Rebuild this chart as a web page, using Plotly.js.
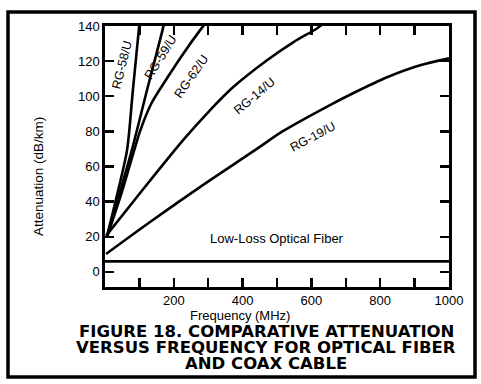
<!DOCTYPE html>
<html>
<head>
<meta charset="utf-8">
<script src="https://cdn.plot.ly/plotly-3.0.1.min.js"></script>
<style>html,body{margin:0;padding:0;background:#fff;}#chart{width:481px;height:384px;}</style>
</head>
<body>
<div id="chart"></div>
<script>
// Frequency (MHz) and attenuation (dB/km)
const rg58Freq = [6, 35, 64, 81, 99, 102];
const rg58Att  = [20.5, 43.8, 69.3, 103.4, 139.2, 146];
const rg59Freq = [6, 41, 78, 122, 169, 174];
const rg59Att  = [20.5, 43.8, 69.3, 103.4, 139.2, 144.3];
const rg62Freq = [6, 48, 85, 103, 135, 182, 228, 276, 294];
const rg62Att  = [19.9, 44.9, 69.3, 80.7, 96, 110.8, 124.4, 137.5, 142];
const rg14Freq = [3, 102, 227, 305, 372, 471, 547, 616, 631];
const rg14Att  = [20.5, 44.9, 75, 92, 105.1, 120.5, 130.7, 138.6, 140.9];
const rg19Freq = [3, 131, 276, 436, 517, 654, 721, 820, 916, 1000];
const rg19Att  = [10.2, 28.4, 48.3, 69.3, 80.1, 95, 101.7, 110.8, 117.6, 121.6];
const fiberFreq = [0, 1000];
const fiberAtt  = [6, 6];

const xTickVals = [100, 200, 300, 400, 500, 600, 700, 800, 900, 1000];
const xTickText = ["", "200", "", "400", "", "600", "", "800", "", "1000"];
const yTickVals = [0, 20, 40, 60, 80, 100, 120, 140];
const yTickText = ["0", "20", "40", "60", "80", "100", "120", "140"];

const cableNames = ["RG-58/U", "RG-59/U", "RG-62/U", "RG-14/U", "RG-19/U"];
const captionLines = ["FIGURE 18. COMPARATIVE ATTENUATION",
                      "VERSUS FREQUENCY FOR OPTICAL FIBER",
                      "AND COAX CABLE"];

const lineStyle = {color: "#000", width: 2.6, shape: "spline", smoothing: 0.8};
const series = [
  [rg58Freq, rg58Att], [rg59Freq, rg59Att], [rg62Freq, rg62Att],
  [rg14Freq, rg14Att], [rg19Freq, rg19Att]
];
const traces = series.map((s, i) => ({
  x: s[0], y: s[1], name: cableNames[i], type: "scatter", mode: "lines",
  line: lineStyle, hoverinfo: "x+y+name"
}));
traces.push({x: fiberFreq, y: fiberAtt, name: "Low-Loss Optical Fiber",
  type: "scatter", mode: "lines", line: {color: "#000", width: 2.6}});

const F = "Liberation Sans, Arial, sans-serif";
const lab = (text, x, y, ang) => ({text, x, y, xref: "x", yref: "y", showarrow: false,
  xanchor: "center", yanchor: "middle",
  textangle: ang, font: {family: F, size: 12.5, color: "#000"}});

const px2x = p => (p - 105) / 344;
const py2y = p => (287 - p) / 261;

const annotations = [
  lab(cableNames[0], 49, 118, -76),
  lab(cableNames[1], 160, 122, -58),
  lab(cableNames[2], 250, 111, -55),
  lab(cableNames[3], 435, 100, -40),
  lab(cableNames[4], 603, 77, -28),
  {text: "Low-Loss Optical Fiber", x: 500, y: 18.8, xref: "x", yref: "y", showarrow: false,
   xanchor: "center", yanchor: "middle", font: {family: F, size: 13, color: "#000"}},
  {text: "Frequency (MHz)", x: px2x(240), y: py2y(315), xref: "paper", yref: "paper",
   xanchor: "center", yanchor: "middle",
   showarrow: false, font: {family: F, size: 13, color: "#000"}},
  {text: "Attenuation (dB/km)", x: px2x(38), y: py2y(177), xref: "paper", yref: "paper",
   xanchor: "center", yanchor: "middle",
   showarrow: false, textangle: -90, font: {family: F, size: 13.5, color: "#000"}}
];
const capY = [331, 347, 363];
captionLines.forEach((t, i) => annotations.push({
  text: "<b>" + t + "</b>", x: px2x(266), y: py2y(capY[i]),
  xref: "paper", yref: "paper", showarrow: false, xanchor: "center", yanchor: "middle",
  borderpad: 0,
  font: {family: "DejaVu Sans, sans-serif", size: 16.5, color: "#000"}
}));

const layout = {
  width: 481, height: 384,
  margin: {l: 105, r: 32, t: 26, b: 97, pad: 0},
  paper_bgcolor: "#fff", plot_bgcolor: "#fff",
  showlegend: false,
  xaxis: {range: [0, 1000], tickvals: xTickVals, ticktext: xTickText,
    showgrid: false, zeroline: false, showline: true, mirror: "ticks",
    linecolor: "#000", linewidth: 2.6, ticks: "inside", ticklen: 9, tickwidth: 2.4,
    tickcolor: "#000", tickfont: {family: F, size: 13, color: "#000"}},
  yaxis: {range: [-8.6, 140], tickvals: yTickVals, ticktext: yTickText,
    showgrid: false, zeroline: false, showline: true, mirror: "ticks",
    linecolor: "#000", linewidth: 2.6, ticks: "inside", ticklen: 9, tickwidth: 2.4,
    tickcolor: "#000", tickfont: {family: F, size: 13, color: "#000"}},
  annotations: annotations,
  shapes: [{type: "rect", xref: "paper", yref: "paper",
    x0: px2x(8), x1: px2x(475), y0: py2y(377), y1: py2y(12),
    line: {color: "#000", width: 3.5}}]
};

Plotly.newPlot("chart", traces, layout, {staticPlot: true, displayModeBar: false});
</script>
</body>
</html>
